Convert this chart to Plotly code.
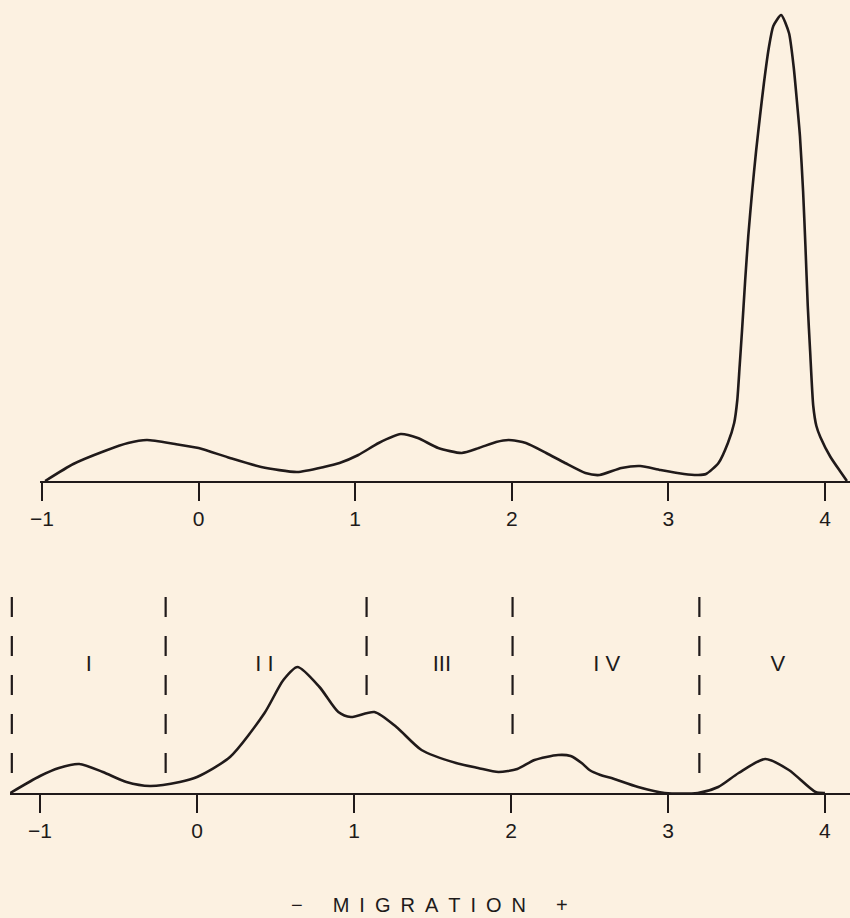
import plotly.graph_objects as go

# ---- data ----
top_x = [-0.98, -0.8, -0.6, -0.45, -0.33, -0.15, 0.0, 0.2, 0.4, 0.63, 0.8, 0.9, 1.02, 1.15, 1.29,
         1.40, 1.53, 1.68, 1.79, 1.90, 1.98, 2.09, 2.22, 2.34, 2.47, 2.56, 2.7, 2.82, 2.95, 3.1, 3.19,
         3.24, 3.32, 3.38, 3.42, 3.44, 3.455, 3.47, 3.49, 3.51, 3.535, 3.56, 3.585, 3.61, 3.64, 3.67,
         3.72, 3.77, 3.80, 3.82, 3.84, 3.86, 3.875, 3.89, 3.905, 3.925, 3.945, 3.97, 4.035, 4.10, 4.14]
top_y = [0, 17, 30, 38, 41, 37, 33, 23, 14, 9, 14, 18, 26, 38, 47,
         43, 33, 28, 33, 39, 41, 38, 28, 18, 8, 6, 13, 15, 11, 7, 6,
         7, 18, 38, 58, 81, 115, 150, 200, 245, 290, 330, 365, 398, 432, 455,
         466, 448, 414, 381, 345, 290, 235, 175, 130, 75, 55, 44, 24, 9, 0]

bot_x = [-1.19, -1.0, -0.88, -0.75, -0.6, -0.45, -0.3, -0.11, 0.0, 0.21, 0.43, 0.55, 0.64,
         0.78, 0.9, 0.98, 1.13, 1.27, 1.43, 1.65, 1.79, 1.92, 2.04, 2.15, 2.30, 2.38, 2.45, 2.50,
         2.57, 2.64, 2.81, 2.98, 3.19, 3.32, 3.45, 3.62, 3.77, 3.94, 4.0]
bot_y = [0, 17, 25, 29, 21, 11, 7, 11, 16, 36, 80, 113, 126,
         106, 81, 76, 81, 66, 43, 30, 25, 21, 24, 33, 38, 37, 30, 23,
         18, 15, 6, 0, 0, 6, 20, 34, 23, 1, 0]

tick_vals = [-1, 0, 1, 2, 3, 4]
tick_text = ["\u22121", "0", "1", "2", "3", "4"]

boundary_x = [-1.18, -0.2, 1.08, 2.01, 3.2]
boundary_top = [196, 196, 196, 196, 196]
boundary_bottom = [20, 20, 96, 56, 18]

zone_labels = ["I", "I I", "III", "I V", "V"]
zone_x = [-0.69, 0.43, 1.56, 2.61, 3.70]
zone_y = [128, 128, 128, 128, 128]

axis_title = "\u2212\u2003\u2002M\u2002I\u2002G\u2002R\u2002A\u2002T\u2002I\u2002O\u2002N\u2003\u2002+"

# ---- layout constants ----
W, H = 850, 918
S = 156.6  # px per unit
BG = "#fcf1e1"
INK = "#201a1a"
FONT = "Liberation Sans, Arial, sans-serif"

fig = go.Figure()

fig.add_trace(go.Scatter(x=top_x, y=top_y, mode="lines", xaxis="x", yaxis="y",
                         line=dict(color=INK, width=2.6, shape="spline", smoothing=0.6),
                         hoverinfo="skip", showlegend=False))
fig.add_trace(go.Scatter(x=bot_x, y=bot_y, mode="lines", xaxis="x2", yaxis="y2",
                         line=dict(color=INK, width=2.6, shape="spline", smoothing=0.7),
                         hoverinfo="skip", showlegend=False))

for bx, bt, bb in zip(boundary_x, boundary_top, boundary_bottom):
    fig.add_trace(go.Scatter(x=[bx, bx], y=[bt, bb], mode="lines", xaxis="x2", yaxis="y2",
                             line=dict(color=INK, width=2.2, dash="20px,19px"),
                             hoverinfo="skip", showlegend=False))

fig.add_trace(go.Scatter(x=zone_x, y=zone_y, mode="text", text=zone_labels, xaxis="x2", yaxis="y2",
                         textfont=dict(family=FONT, size=22, color=INK),
                         hoverinfo="skip", showlegend=False))

axis_common = dict(
    showline=True, linecolor=INK, linewidth=2.2,
    ticks="outside", ticklen=18, tickwidth=2, tickcolor=INK,
    tickvals=tick_vals, ticktext=tick_text, ticklabelstandoff=0,
    tickfont=dict(family=FONT, size=21, color=INK),
    showgrid=False, zeroline=False, fixedrange=True, automargin=False,
)

top_base = 481
bot_base = 793

fig.update_layout(
    width=W, height=H,
    margin=dict(l=0, r=0, t=0, b=0, pad=0, autoexpand=False),
    paper_bgcolor=BG, plot_bgcolor=BG,
    xaxis=dict(domain=[40 / W, 1], range=[-1 - 2 / S, 4 + 25 / S], anchor="y", **axis_common),
    yaxis=dict(domain=[1 - top_base / H, 1], range=[0, top_base], visible=False, fixedrange=True),
    xaxis2=dict(domain=[10 / W, 1], range=[-1 - 30 / S, 4 + 25 / S], anchor="y2", **axis_common),
    yaxis2=dict(domain=[1 - bot_base / H, 1 - 580 / H], range=[0, bot_base - 580], visible=False, fixedrange=True),
    annotations=[dict(text=axis_title, x=429 / W, y=1 - 905 / H, xref="paper", yref="paper",
                      xanchor="center", yanchor="middle", showarrow=False,
                      font=dict(family=FONT, size=20, color=INK))],
)

fig.write_html("out.html", config={"displayModeBar": False},
               post_script="document.body.style.margin='0';document.body.style.overflow='hidden';"
                           "document.body.style.background='" + BG + "';")
